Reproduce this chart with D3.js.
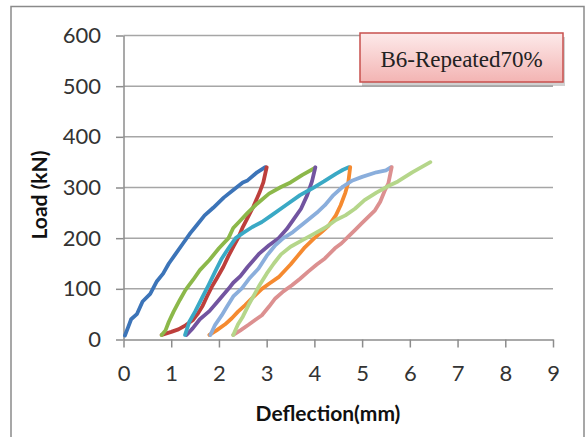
<!DOCTYPE html>
<html>
<head>
	<title></title>
	<script src="https://d3js.org/d3.v7.min.js"></script>
	<style>
		body { margin: 0; background: #fff; }
		.axis text { font-family: Lato, "Open Sans", sans-serif; font-size: 22px; fill: #333; }
		.axis path, .axis line { stroke: #8c8c8c; stroke-width: 1.5; }
		.grid line { stroke: #a6a6a6; stroke-width: 1.5; }
		.title { font-family: Lato, "Open Sans", sans-serif; font-weight: bold; font-size: 21px; fill: #111; }
		.curve { fill: none; stroke-width: 3.8; stroke-linejoin: round; stroke-linecap: round; }
	</style>
</head>
<body>
	<svg width="587" height="437"></svg>
<script type="text/javascript">

// load-deflection cycles (mm, kN)
var loading1   = [[0.03,8],[0.1,25],[0.16,40],[0.28,50],[0.4,75],[0.56,90],[0.7,115],[0.83,130],[0.95,150],[1.1,170],[1.25,190],[1.4,210],[1.53,225],[1.7,245],[1.88,260],[2.1,280],[2.3,295],[2.5,310],[2.6,314],[2.8,330],[2.97,340]];
var unloading1 = [[3.0,340],[2.93,310],[2.85,290],[2.72,262],[2.6,240],[2.5,222],[2.4,200],[2.3,183],[2.2,165],[2.09,143],[1.95,120],[1.85,104],[1.75,85],[1.65,65],[1.55,50],[1.45,38],[1.3,28],[1.15,20],[1.0,15],[0.8,9]];
var loading2   = [[0.8,9],[0.88,18],[0.95,35],[1.05,55],[1.18,78],[1.3,98],[1.46,118],[1.6,137],[1.8,157],[2.0,180],[2.2,200],[2.3,220],[2.45,235],[2.6,250],[2.8,268],[3.05,288],[3.3,301],[3.5,310],[3.75,325],[4.0,338]];
var unloading2 = [[4.02,340],[3.95,312],[3.85,285],[3.72,258],[3.55,235],[3.42,218],[3.25,200],[3.05,186],[2.85,170],[2.6,143],[2.45,125],[2.3,112],[2.2,100],[2.0,78],[1.8,56],[1.6,40],[1.45,22],[1.32,9]];
var loading3   = [[1.29,9],[1.38,35],[1.5,55],[1.64,81],[1.78,107],[1.92,134],[2.06,160],[2.2,180],[2.35,200],[2.5,210],[2.7,222],[2.9,232],[3.1,245],[3.4,265],[3.7,285],[3.95,298],[4.2,312],[4.45,327],[4.6,335],[4.72,340]];
var unloading3 = [[4.75,340],[4.71,310],[4.65,290],[4.55,265],[4.45,245],[4.3,225],[4.15,212],[4.0,200],[3.8,182],[3.65,165],[3.5,148],[3.25,123],[3.05,110],[2.9,100],[2.7,82],[2.55,68],[2.4,55],[2.27,42],[2.13,30],[1.95,18],[1.8,9]];
var loading4   = [[1.82,9],[1.92,29],[2.06,48],[2.15,62],[2.3,85],[2.48,101],[2.65,122],[2.83,140],[3.0,165],[3.18,186],[3.35,200],[3.55,212],[3.85,235],[4.05,250],[4.22,265],[4.4,285],[4.6,302],[4.8,314],[5.0,321],[5.3,330],[5.5,334],[5.6,340]];
var unloading4 = [[5.62,340],[5.55,308],[5.48,295],[5.38,272],[5.27,255],[5.13,242],[4.99,229],[4.85,216],[4.71,203],[4.57,190],[4.43,180],[4.22,160],[4.05,148],[3.87,134],[3.7,120],[3.53,107],[3.35,95],[3.18,81],[3.05,65],[2.9,48],[2.75,38],[2.62,29],[2.45,18],[2.3,9]];
var loading5   = [[2.3,9],[2.4,30],[2.5,45],[2.62,68],[2.75,90],[2.85,107],[3.0,130],[3.15,150],[3.3,168],[3.5,183],[3.75,196],[4.0,209],[4.25,222],[4.45,236],[4.65,245],[4.85,258],[5.05,275],[5.3,290],[5.55,303],[5.75,312],[6.05,330],[6.43,350]];

var series = [loading1, unloading1, loading2, unloading2, loading3, unloading3, loading4, unloading4, loading5];
var colors = ["#3c74b8", "#bd3f3c", "#8cb84a", "#7254a0", "#3aa9c5", "#f58a30", "#8aaedc", "#dc9090", "#b5d68a"];

var xTicks = [0, 1, 2, 3, 4, 5, 6, 7, 8, 9];
var yTicks = [0, 100, 200, 300, 400, 500, 600];
var legendText = "B6-Repeated70%";

var svg = d3.select("svg");

// outer chart border
svg.append("rect")
	.attr("x", 11).attr("y", 6.5)
	.attr("width", 573).attr("height", 436)
	.attr("fill", "none")
	.attr("stroke", "#8a8a8a")
	.attr("stroke-width", 1.5);

var x = d3.scaleLinear().domain([0, 9]).range([123.5, 553]);
var y = d3.scaleLinear().domain([0, 600]).range([339.5, 35.5]);

svg.append("g")
	.attr("class", "grid")
	.selectAll("line")
	.data(yTicks.slice(1))
	.enter().append("line")
	.attr("x1", x(0)).attr("x2", x(9))
	.attr("y1", function(d) { return y(d); })
	.attr("y2", function(d) { return y(d); });

var xAxis = svg.append("g")
	.attr("class", "axis")
	.attr("transform", "translate(0," + y(0) + ")")
	.call(d3.axisBottom(x).tickValues(xTicks).tickSize(8).tickSizeOuter(0));
xAxis.selectAll("text").attr("y", 41.5).attr("dy", 0);

var yAxis = svg.append("g")
	.attr("class", "axis")
	.attr("transform", "translate(" + x(0) + ",0)")
	.call(d3.axisLeft(y).tickValues(yTicks).tickSize(7.5).tickPadding(15).tickSizeOuter(0));

// curves
var line = d3.line()
	.x(function(d) { return x(d[0]); })
	.y(function(d) { return y(d[1]); });

svg.append("g")
	.selectAll("path")
	.data(series)
	.enter().append("path")
	.attr("class", "curve")
	.attr("stroke", function(d, i) { return colors[i]; })
	.attr("d", line);

// axis titles
svg.append("text")
	.attr("class", "title")
	.attr("text-anchor", "middle")
	.attr("transform", "translate(47,195) rotate(-90)")
	.text("Load (kN)");

svg.append("text")
	.attr("class", "title")
	.attr("text-anchor", "middle")
	.attr("x", 328).attr("y", 421)
	.text("Deflection(mm)");

// legend box
var defs = svg.append("defs");
var grad = defs.append("linearGradient")
	.attr("id", "pinkGrad")
	.attr("x1", 0).attr("y1", 0).attr("x2", 0).attr("y2", 1);
grad.append("stop").attr("offset", "0%").attr("stop-color", "#fdeaea");
grad.append("stop").attr("offset", "100%").attr("stop-color", "#f3b4b3");

svg.append("rect")
	.attr("x", 362).attr("y", 37)
	.attr("width", 203).attr("height", 49)
	.attr("fill", "#000")
	.attr("opacity", 0.18);

svg.append("rect")
	.attr("x", 360).attr("y", 33)
	.attr("width", 203).attr("height", 49)
	.attr("fill", "url(#pinkGrad)")
	.attr("stroke", "#c8504e")
	.attr("stroke-width", 1.5);

svg.append("text")
	.attr("x", 461.5).attr("y", 66.5)
	.attr("text-anchor", "middle")
	.attr("font-family", "'Liberation Serif', serif")
	.attr("font-size", 23)
	.attr("fill", "#222")
	.text(legendText);

</script>
</body>
</html>
